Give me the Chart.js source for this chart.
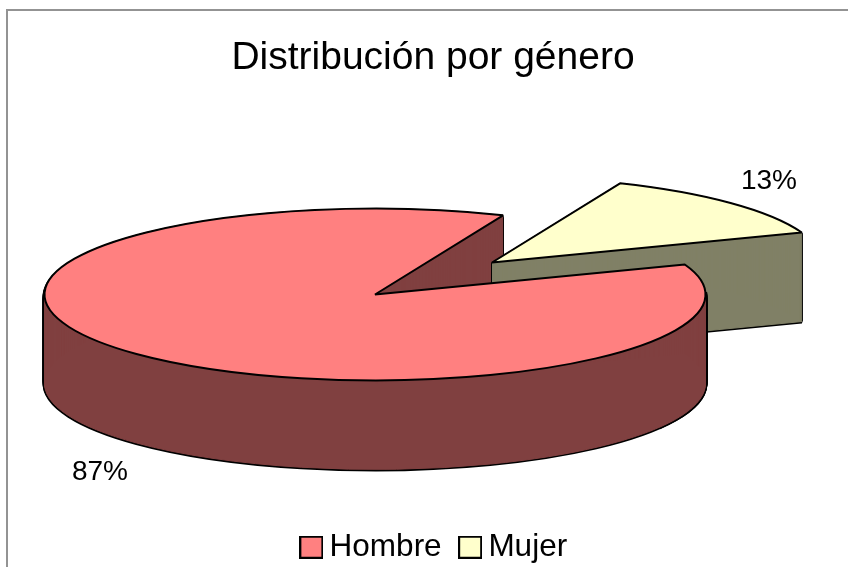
<!DOCTYPE html>
<html lang="es">
<head>
<meta charset="utf-8">
<title>Distribución por género</title>
<script src="https://cdn.jsdelivr.net/npm/chart.js@4"></script>
<style>
    html, body { margin: 0; background: #fff; overflow: hidden; }
    canvas { display: block; }
</style>
</head>
<body>
<canvas id="pie" width="848" height="567"></canvas>
<script>
// Chart data
const titleText = "Distribución por género";
const categories = ["Hombre", "Mujer"];
const percents = [87, 13];

// Colors, one per category
const topColors = ["#ff8080", "#ffffcc"];
const wallColors = ["#804040", "#808066"];

// Look of the fake 3D pie
const fontName = "'Liberation Sans', Arial, sans-serif";
const pieCenter = { x: 375, y: 294.5 };
const pieRadius = 330.5;
const squash = 0.26;
const pieDepth = 89;
const explode = [{ x: 0, y: 0 }, { x: 117, y: -32 }];
const labelSpots = [{ x: 100, y: 472 }, { x: 769, y: 181 }];
const legendShift = { x: 5, y: 10 };

/**
 * Draws one arc flattened to an ellipse, the stroke keeps an even width
 */
function drawFlat(ctx, arc, index, drop, style) {
    const shared = arc.options;
    arc.options = Object.assign({}, shared, style);
    ctx.save();
    ctx.translate(pieCenter.x + explode[index].x, pieCenter.y + explode[index].y + drop);
    ctx.scale(1, squash);
    ctx.translate(-arc.x, -arc.y);
    // The path is already flattened here, so stroke it without the transform
    ctx.stroke = function () {
        const flat = ctx.getTransform();
        ctx.resetTransform();
        CanvasRenderingContext2D.prototype.stroke.call(ctx);
        ctx.setTransform(flat);
    };
    arc.draw(ctx);
    delete ctx.stroke;
    ctx.restore();
    arc.options = shared;
}

/**
 * Side walls: black silhouette first, dark fill on top of it.
 * The fill goes top to bottom so that the last copy over a pixel covers it whole
 * and the soft edges of the other copies can't leave stripes.
 */
function drawWall(ctx, arc, index) {
    const wall = wallColors[index];
    for (let d = 2; d <= pieDepth; d++) {
        drawFlat(ctx, arc, index, d, { backgroundColor: "#000", borderColor: "#000", borderWidth: 4 });
    }
    for (let d = 0; d <= pieDepth; d++) {
        drawFlat(ctx, arc, index, d, { backgroundColor: wall, borderColor: wall, borderWidth: 1 });
    }
}

const pie3d = {
    id: "pie3d",
    afterLayout(chart) {
        // The legend is not centered under the title in the original
        chart.legend.left += legendShift.x;
        chart.legend.right += legendShift.x;
        chart.legend.top += legendShift.y;
        chart.legend.bottom += legendShift.y;
    },
    beforeDraw(chart) {
        // Gray frame, the right and bottom sides fall off the picture
        const ctx = chart.ctx;
        ctx.save();
        ctx.strokeStyle = "#939393";
        ctx.lineWidth = 2;
        ctx.beginPath();
        ctx.moveTo(7, chart.height);
        ctx.lineTo(7, 10);
        ctx.lineTo(chart.width, 10);
        ctx.stroke();
        ctx.restore();
    },
    beforeDatasetsDraw(chart) {
        const ctx = chart.ctx;
        const [hombre, mujer] = chart.getDatasetMeta(0).data;
        const top = { borderWidth: 2 };

        // Back to front: Mujer hides the cut wall of Hombre, Hombre's rim hides Mujer
        drawWall(ctx, hombre, 0);
        drawWall(ctx, mujer, 1);
        drawFlat(ctx, mujer, 1, 0, top);
        ctx.save();
        ctx.beginPath();
        ctx.rect(660, 292, chart.width, chart.height);
        ctx.clip();
        drawWall(ctx, hombre, 0);
        ctx.restore();
        drawFlat(ctx, hombre, 0, 0, top);

        // Percent labels
        ctx.save();
        ctx.fillStyle = "#000";
        ctx.font = "28px " + fontName;
        ctx.textAlign = "center";
        ctx.textBaseline = "middle";
        percents.forEach((value, i) => ctx.fillText(value + "%", labelSpots[i].x, labelSpots[i].y));
        ctx.restore();

        // Skip the normal arc drawing
        return false;
    },
};

/**
 * Legend swatch, the built in box sits too far from the text
 */
function legendSwatch(color) {
    const swatch = document.createElement("canvas");
    swatch.width = 24;
    swatch.height = 23;
    const g = swatch.getContext("2d");
    g.fillStyle = color;
    g.strokeStyle = "#000";
    g.lineWidth = 2;
    g.fillRect(1, 1, 22, 21);
    g.strokeRect(1, 1, 22, 21);
    return swatch;
}

new Chart(document.getElementById("pie"), {
    type: "pie",
    data: {
        labels: categories,
        datasets: [
            {
                data: percents,
                backgroundColor: topColors,
                borderColor: "#000",
                borderWidth: 2,
                radius: pieRadius,
            },
        ],
    },
    options: {
        responsive: false,
        animation: false,
        rotation: 69.6,
        layout: { padding: { left: 18, top: 35, bottom: 4 } },
        plugins: {
            title: {
                display: true,
                text: titleText,
                color: "#000",
                font: { family: fontName, size: 39, weight: "normal" },
                padding: 0,
            },
            legend: {
                position: "bottom",
                labels: {
                    color: "#000",
                    font: { family: fontName, size: 31.5 },
                    usePointStyle: true,
                    pointStyleWidth: 5,
                    padding: 26,
                    generateLabels: chart =>
                        Chart.overrides.pie.plugins.legend.labels
                            .generateLabels(chart)
                            .map((item, i) => ({ ...item, pointStyle: legendSwatch(topColors[i]) })),
                },
            },
            tooltip: { enabled: false },
        },
    },
    plugins: [pie3d],
});
</script>
</body>
</html>
